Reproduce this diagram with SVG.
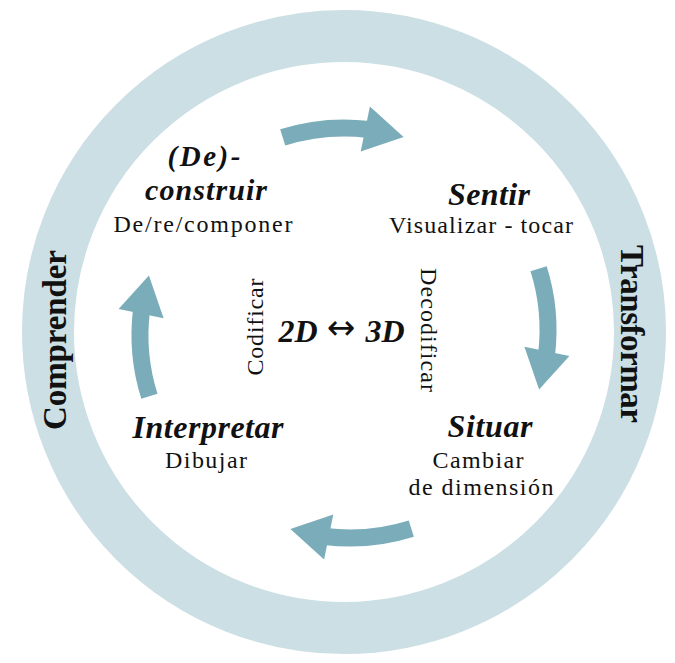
<svg xmlns="http://www.w3.org/2000/svg" width="675" height="663" viewBox="0 0 675 663">
<style>
.t{font-family:"Liberation Serif","Times New Roman",serif;fill:#111;text-anchor:middle}
.bi{font-weight:bold;font-style:italic;font-size:32px}
.r{font-size:24px}
.b{font-weight:bold;font-size:33px}
.shaft{fill:none;stroke:#7AADB9;stroke-width:17}
.head{fill:#7AADB9}
</style>
<defs>
<g id="arrow">
<path class="shaft" d="M282.7,137.4 A204,204 0 0 1 368.9,129.5"/>
<polygon class="head" points="369.9,106.6 403.6,136.9 360.7,151.6"/>
</g>
</defs>
<rect width="675" height="663" fill="#fff"/>
<g id="ring">
<circle cx="344" cy="332" r="296" fill="none" stroke="#CBDFE5" stroke-width="52"/>
<text class="t b" transform="translate(66,340) rotate(-90)" textLength="180" lengthAdjust="spacing">Comprender</text>
<text class="t b" transform="translate(621,334) rotate(90)" textLength="178" lengthAdjust="spacing">Transformar</text>
</g>
<g id="connectors">
<use href="#arrow"/>
<use href="#arrow" transform="translate(0,-2) rotate(90 344 332)"/>
<use href="#arrow" transform="translate(6,2) rotate(180 344 332)"/>
<use href="#arrow" transform="translate(0,3) rotate(270 344 332)"/>
</g>
<g id="deconstruir">
<text class="t bi" x="204" y="166" font-size="29" style="font-size:29px" textLength="73" lengthAdjust="spacing">(De)-</text>
<text class="t bi" x="206" y="200" style="font-size:30px" textLength="122" lengthAdjust="spacing">construir</text>
<text class="t r" x="203" y="232" textLength="179" lengthAdjust="spacing">De/re/componer</text>
</g>
<g id="sentir">
<text class="t bi" x="489" y="205" textLength="82" lengthAdjust="spacing">Sentir</text>
<text class="t r" x="481" y="233" textLength="184" lengthAdjust="spacing">Visualizar - tocar</text>
</g>
<g id="situar">
<text class="t bi" x="490" y="437" textLength="85" lengthAdjust="spacing">Situar</text>
<text class="t r" x="478" y="468" textLength="91" lengthAdjust="spacing">Cambiar</text>
<text class="t r" x="481" y="495" textLength="145" lengthAdjust="spacing">de dimensión</text>
</g>
<g id="interpretar">
<text class="t bi" x="208" y="438" textLength="151" lengthAdjust="spacing">Interpretar</text>
<text class="t r" x="206" y="468" textLength="82" lengthAdjust="spacing">Dibujar</text>
</g>
<g id="centro">
<text class="t r" transform="translate(263,327) rotate(-90)" textLength="97" lengthAdjust="spacing">Codificar</text>
<text class="t r" transform="translate(421,330) rotate(90)" textLength="124" lengthAdjust="spacing">Decodificar</text>
<text class="t bi" y="342"><tspan x="298">2D</tspan><tspan x="341" y="339" font-size="34" font-weight="normal" font-style="normal" font-family="DejaVu Sans,sans-serif">↔</tspan><tspan x="385" y="342">3D</tspan></text>
</g>
</svg>
